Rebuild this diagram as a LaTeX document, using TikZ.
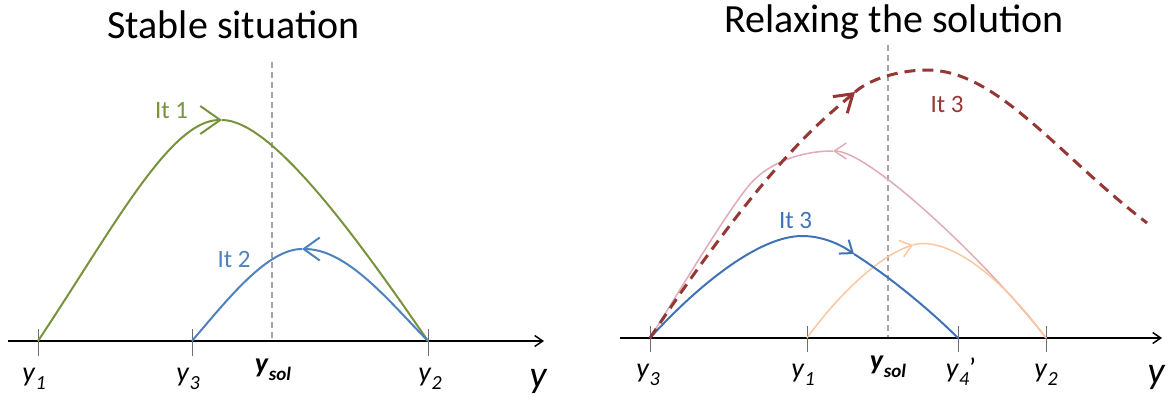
\documentclass[tikz,border=0pt]{standalone}
\usepackage{fontspec}
\setmainfont{Carlito}
\usetikzlibrary{arrows.meta,calc}
\definecolor{cgreen}{RGB}{119,147,60}
\definecolor{cblue}{RGB}{79,129,189}
\definecolor{cblueb}{RGB}{65,114,181}
\definecolor{cred}{RGB}{149,55,53}
\definecolor{cpink}{RGB}{222,172,180}
\definecolor{cpeach}{RGB}{250,200,160}
\definecolor{cgray}{RGB}{165,165,165}
\definecolor{ctick}{RGB}{110,110,110}
\newcommand\ylab[1]{\textit{y}\raisebox{-0.3em}{\fontsize{20}{20}\selectfont\textit{#1}}}
\newcommand\ysollab{\textbf{\textit{y}}\raisebox{-0.3em}{\fontsize{19}{19}\selectfont\textbf{\textit{sol}}}}
\begin{document}
\begin{tikzpicture}[x=1pt,y=-1pt,
  axisline/.style={line width=2pt,-{Straight Barb[length=8pt,width=11pt,line width=1.5pt]}},
  tickline/.style={draw=ctick,line width=1pt},
  solline/.style={draw=cgray,line width=1.3pt,dash pattern=on 6pt off 4pt},
  title/.style={font=\fontsize{40}{44}\selectfont,anchor=base,inner sep=0pt},
  lab/.style={font=\fontsize{28}{30}\selectfont,anchor=base,inner sep=0pt},
  biglab/.style={font=\fontsize{38}{40}\selectfont\itshape,anchor=base,inner sep=0pt},
  itlab/.style={font=\fontsize{25}{27}\selectfont,anchor=base,inner sep=0pt},
  curve/.style={line width=2pt},
  thin curve/.style={line width=1.5pt},
  redcurve/.style={draw=cred,line width=3pt,dash pattern=on 11pt off 7pt}
]
\useasboundingbox (0,0) rectangle (1171,400);
% ---------- coordinates
\coordinate (La) at (8,341);
\coordinate (Lb) at (544,341);
\coordinate (L1) at (38,341);
\coordinate (L3) at (192,341);
\coordinate (Ls) at (272,341);
\coordinate (Lst) at (272,62);
\coordinate (L2) at (428,341);
\coordinate (Ra) at (620,338);
\coordinate (Rb) at (1162,338);
\coordinate (R3) at (650,338);
\coordinate (R1) at (807,338);
\coordinate (Rs) at (888,338);
\coordinate (Rst) at (888,45);
\coordinate (R4) at (958,338);
\coordinate (R2) at (1046,338);
% ---------- titles
\node[title] (t1) at (233.5,38) {Stable situation};
\node[title] (t2) at (894,32) {Relaxing the solution};
% ---------- left panel
\draw[solline] (Lst) -- (Ls);
\draw[axisline] (La) -- (Lb);
\foreach \p in {L1,L3,L2} \draw[tickline] ($(\p)+(0,-12)$) -- ($(\p)+(0,15)$);
% green It 1
\coordinate (Gp) at (222,120);
\draw[curve,cgreen,-{Straight Barb[length=20pt,width=28pt]}] (L1) .. controls (113,228.5) and (170,120) .. (Gp);
\draw[curve,cgreen] (Gp) .. controls (272,120) and (358,239) .. (L2);
% blue It 2
\coordinate (Bp) at (302,249);
\draw[curve,cblue] (L3) .. controls (227,300) and (267,249) .. (Bp);
\draw[curve,cblue,-{Straight Barb[length=16pt,width=23pt]}] (L2) .. controls (388,300) and (347,249) .. (Bp);
\node[itlab,text=cgreen] (it1) at (171.5,118) {It 1};
\node[itlab,text=cblue] (it2) at (234,267) {It 2};
% labels
\node[lab] (ly1) at (34,381) {\ylab{1}};
\node[lab] (ly3) at (188,381) {\ylab{3}};
\node[lab] (lys) at (273,372) {\ysollab};
\node[lab] (ly2) at (430,381) {\ylab{2}};
\node[biglab] (lyy) at (538,387) {y};
% ---------- right panel
\draw[solline] (Rst) -- (Rs);
\draw[axisline] (Ra) -- (Rb);
\foreach \p in {R3,R1,R4,R2} \draw[tickline] ($(\p)+(0,-12)$) -- ($(\p)+(0,14)$);
% pink
\coordinate (Pp) at (833,151);
\coordinate (Pm) at (752,182);
\draw[thin curve,cpink,-{Straight Barb[length=12pt,width=16pt]}] (R2) .. controls (990,265) and (870,151) .. (Pp);
\draw[thin curve,cpink] (Pp) .. controls (800,151) and (770,163) .. (Pm) .. controls (732,203) and (674,300) .. (R3);
% peach
\coordinate (Qa) at (913,245);
\draw[thin curve,cpeach,-{Straight Barb[length=11pt,width=17pt]}] (R1) .. controls (838,295) and (880,255) .. (Qa);
\draw[thin curve,cpeach] (Qa) .. controls (940,237) and (990,262) .. (R2);
% blue It 3
\coordinate (Cp) at (802,236);
\coordinate (Ca) at (854,254);
\draw[curve,cblueb] (R3) .. controls (700,283) and (760,236) .. (Cp);
\draw[curve,cblueb,-{Straight Barb[length=11pt,width=17pt]}] (Cp) .. controls (822,236) and (840,244) .. (Ca);
\draw[curve,cblueb] (Ca) .. controls (890,277) and (930,310) .. (R4);
% red dashed It 3
\coordinate (Da) at (855,92);
\coordinate (Dp) at (927,70);
\coordinate (De) at (1147,223);
\draw[redcurve,-{Straight Barb[length=17pt,width=22pt]}] (R3) .. controls (770,158) and (825,118) .. (Da);
\draw[redcurve] (Da) .. controls (873,76.5) and (905,70) .. (Dp) .. controls (997,70) and (1057,154) .. (De);
\node[itlab,text=cred] (it3r) at (947,112) {It 3};
\node[itlab,text=cblueb] (it3b) at (795.5,228) {It 3};
% labels
\node[lab] (ry3) at (648,377) {\ylab{3}};
\node[lab] (ry1) at (803,377) {\ylab{1}};
\node[lab] (rys) at (888,369) {\ysollab};
\node[lab] (ry4) at (961,377) {\ylab{4}’};
\node[lab] (ry2) at (1046,377) {\ylab{2}};
\node[biglab] (ryy) at (1156,383.5) {y};
\end{tikzpicture}
\end{document}
